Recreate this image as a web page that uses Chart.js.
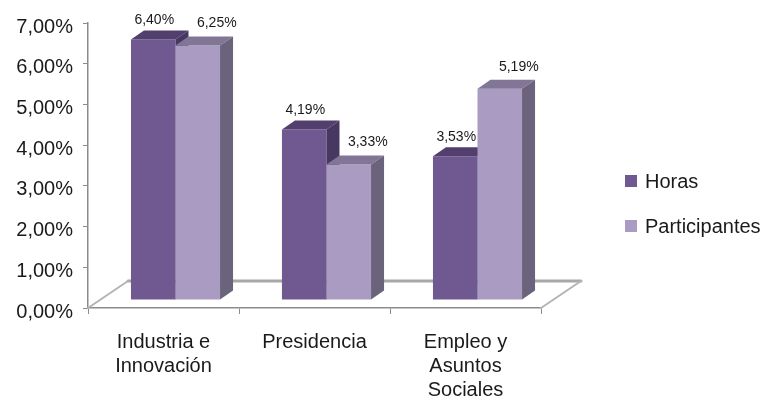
<!DOCTYPE html>
<html>
<head>
<meta charset="utf-8">
<script src="https://cdn.jsdelivr.net/npm/chart.js@4.4.1/dist/chart.umd.min.js"></script>
<style>
  html, body { margin: 0; padding: 0; background: #ffffff; }
  canvas { display: block; }
</style>
</head>
<body>
<canvas id="grafico" width="766" height="405"></canvas>
<script>
// Datos del gráfico
const categorias = [['Industria e', 'Innovación'], 'Presidencia', ['Empleo y', 'Asuntos', 'Sociales']];
const series = ['Horas', 'Participantes'];
const horas = [6.40, 4.19, 3.53];
const participantes = [6.25, 3.33, 5.19];
const ejeMin = 0;
const ejeMax = 7;
const ejePaso = 1;

const FUENTE = '"Liberation Sans", Arial, sans-serif';
const TEXTO = '#1a1a1a';
const GRIS_EJE = '#8c8c8c';

// Colores de cada serie: cara frontal, superior y lateral
const caras = [
    { frente: '#705891', techo: '#523f6e', lado: '#473862' },
    { frente: '#a99bc1', techo: '#817696', lado: '#6b627b' }
];

// Efecto 3D
const DESPLAZ = { x: 12, y: -8 };   // barras colocadas hacia el fondo del suelo
const PROF = { x: 13, y: -9 };      // profundidad de cada barra
const SUELO = { x: 40, y: -27 };    // profundidad del suelo
const ETIQ = [{ x: 1, y: -19 }, { x: 19, y: -22 }];

function formato(v) {
    return v.toFixed(2).replace('.', ',') + '%';
}

function poligono(ctx, puntos, color) {
    ctx.beginPath();
    ctx.moveTo(puntos[0][0], puntos[0][1]);
    for (let i = 1; i < puntos.length; i++) ctx.lineTo(puntos[i][0], puntos[i][1]);
    ctx.closePath();
    ctx.fillStyle = color;
    ctx.fill();
}

const barras3d = {
    id: 'barras3d',
    beforeDatasetsDraw(chart) {
        const ctx = chart.ctx;
        const area = chart.chartArea;
        const y0 = chart.scales.y.getPixelForValue(0);

        // Suelo: borde trasero y laterales
        ctx.save();
        ctx.lineCap = 'round';
        ctx.strokeStyle = '#a8a8a8';
        ctx.lineWidth = 3;
        ctx.beginPath();
        ctx.moveTo(area.left + SUELO.x, y0 + SUELO.y);
        ctx.lineTo(area.right + SUELO.x, y0 + SUELO.y);
        ctx.stroke();
        ctx.strokeStyle = '#b4b4b4';
        ctx.lineWidth = 2;
        ctx.beginPath();
        ctx.moveTo(area.left, y0);
        ctx.lineTo(area.left + SUELO.x, y0 + SUELO.y);
        ctx.moveTo(area.right, y0);
        ctx.lineTo(area.right + SUELO.x, y0 + SUELO.y);
        ctx.stroke();

        // Barras: por categoría, de izquierda a derecha
        const metas = [chart.getDatasetMeta(0), chart.getDatasetMeta(1)];
        ctx.translate(DESPLAZ.x, DESPLAZ.y);
        for (let i = 0; i < categorias.length; i++) {
            metas.forEach((meta, d) => {
                const bar = meta.data[i];
                const p = bar.getProps(['x', 'y', 'base', 'width'], true);
                const izq = p.x - p.width / 2;
                const der = p.x + p.width / 2;
                bar.draw(ctx);
                poligono(ctx, [[izq, p.y], [der, p.y], [der + PROF.x, p.y + PROF.y], [izq + PROF.x, p.y + PROF.y]], caras[d].techo);
                poligono(ctx, [[der, p.y], [der + PROF.x, p.y + PROF.y], [der + PROF.x, p.base + PROF.y], [der, p.base]], caras[d].lado);
            });
        }
        ctx.restore();
        return false;
    },
    afterDraw(chart) {
        const ctx = chart.ctx;
        ctx.save();

        // Etiquetas de valor
        ctx.font = '14px ' + FUENTE;
        ctx.fillStyle = TEXTO;
        ctx.textAlign = 'center';
        ctx.textBaseline = 'middle';
        chart.data.datasets.forEach((ds, d) => {
            chart.getDatasetMeta(d).data.forEach((bar, i) => {
                const p = bar.getProps(['x', 'y'], true);
                ctx.fillText(formato(ds.data[i]), p.x + DESPLAZ.x + ETIQ[d].x, p.y + DESPLAZ.y + ETIQ[d].y);
            });
        });

        // Leyenda
        ctx.font = '20px ' + FUENTE;
        ctx.textAlign = 'left';
        chart.data.datasets.forEach((ds, d) => {
            const yc = 181 + d * 45;
            ctx.fillStyle = caras[d].frente;
            ctx.fillRect(625, yc - 6, 12, 12);
            ctx.fillStyle = TEXTO;
            ctx.fillText(ds.label, 645, yc + 1);
        });
        ctx.restore();
    }
};

const ctx = document.getElementById('grafico').getContext('2d');
new Chart(ctx, {
    type: 'bar',
    data: {
        labels: categorias,
        datasets: [
            { label: series[0], data: horas, backgroundColor: caras[0].frente },
            { label: series[1], data: participantes, backgroundColor: caras[1].frente }
        ]
    },
    options: {
        responsive: false,
        animation: false,
        categoryPercentage: 0.59,
        barPercentage: 1.0,
        layout: { padding: { top: 23, right: 225, bottom: 0, left: 0 } },
        plugins: {
            legend: { display: false },
            tooltip: { enabled: false }
        },
        scales: {
            x: {
                ticks: {
                    color: TEXTO,
                    font: { family: FUENTE, size: 20, lineHeight: 1.2 },
                    padding: 16,
                    maxRotation: 0,
                    autoSkip: false
                },
                grid: { drawOnChartArea: false, tickLength: 6, color: GRIS_EJE, offset: true },
                border: { display: true, color: GRIS_EJE, width: 1.5 },
                afterFit(scale) { scale.height = 97; }
            },
            y: {
                min: ejeMin,
                max: ejeMax,
                ticks: {
                    stepSize: ejePaso,
                    color: TEXTO,
                    font: { family: FUENTE, size: 20 },
                    padding: 10,
                    labelOffset: 4,
                    callback: v => formato(v)
                },
                grid: { drawOnChartArea: false, tickLength: 5, color: GRIS_EJE },
                border: { display: true, color: GRIS_EJE, width: 1.5 },
                afterFit(scale) { scale.width = 88; }
            }
        }
    },
    plugins: [barras3d]
});
</script>
</body>
</html>
